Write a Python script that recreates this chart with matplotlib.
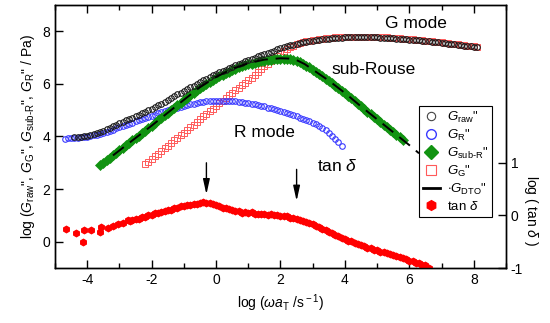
import numpy as np
import matplotlib
matplotlib.use('Agg')
import matplotlib.pyplot as plt
from matplotlib.lines import Line2D

plt.rcParams['font.family'] = ['Liberation Sans', 'DejaVu Sans']
plt.rcParams['mathtext.fontset'] = 'custom'
plt.rcParams['mathtext.rm'] = 'Liberation Sans'
plt.rcParams['mathtext.it'] = 'Liberation Sans:italic'
plt.rcParams['mathtext.bf'] = 'Liberation Sans:bold'
plt.rcParams['axes.unicode_minus'] = False

# log(omega aT) grids, 0.1 decade steps
x_raw = np.round(np.arange(-4.4, 8.15, 0.1), 1)
g_raw = [3.97, 3.98, 3.99, 4.00, 4.01, 4.04, 4.08, 4.12, 4.17, 4.22,
         4.27, 4.33, 4.39, 4.45, 4.51, 4.56, 4.61, 4.67, 4.72, 4.78,
         4.83, 4.88, 4.94, 4.99, 5.05, 5.11, 5.18, 5.24, 5.31, 5.38,
         5.45, 5.52, 5.60, 5.67, 5.74, 5.80, 5.87, 5.93, 6.00, 6.06,
         6.13, 6.19, 6.26, 6.32, 6.38, 6.43, 6.49, 6.54, 6.60, 6.65,
         6.70, 6.75, 6.80, 6.85, 6.90, 6.95, 6.99, 7.04, 7.08, 7.13,
         7.17, 7.22, 7.26, 7.31, 7.35, 7.39, 7.42, 7.46, 7.49, 7.52,
         7.55, 7.57, 7.60, 7.62, 7.64, 7.66, 7.68, 7.69, 7.71, 7.72,
         7.73, 7.74, 7.75, 7.75, 7.76, 7.76, 7.77, 7.77, 7.77, 7.77,
         7.77, 7.77, 7.76, 7.76, 7.76, 7.75, 7.75, 7.74, 7.73, 7.73,
         7.72, 7.71, 7.70, 7.69, 7.68, 7.67, 7.66, 7.65, 7.63, 7.62,
         7.61, 7.60, 7.58, 7.57, 7.56, 7.54, 7.53, 7.51, 7.50, 7.48,
         7.46, 7.45, 7.43, 7.42, 7.40, 7.39]

x_R = np.round(np.arange(-4.7, 3.95, 0.1), 1)
g_R = [3.92, 3.93, 3.94, 3.95, 3.96, 3.97, 3.98, 3.99, 4.01, 4.04,
       4.07, 4.10, 4.14, 4.18, 4.22, 4.26, 4.31, 4.35, 4.39, 4.44,
       4.48, 4.53, 4.57, 4.61, 4.66, 4.70, 4.75, 4.79, 4.83, 4.88,
       4.92, 4.96, 5.00, 5.03, 5.07, 5.10, 5.13, 5.16, 5.19, 5.22,
       5.25, 5.28, 5.30, 5.32, 5.33, 5.34, 5.35, 5.36, 5.36, 5.36,
       5.36, 5.35, 5.35, 5.34, 5.32, 5.31, 5.29, 5.28, 5.25, 5.22,
       5.20, 5.17, 5.14, 5.10, 5.07, 5.03, 5.00, 4.96, 4.92, 4.89,
       4.85, 4.81, 4.77, 4.72, 4.68, 4.63, 4.58, 4.53, 4.47, 4.40,
       4.32, 4.23, 4.13, 4.02, 3.91, 3.79, 3.62]

x_sub = np.round(np.arange(-3.6, 5.85, 0.1), 1)
g_sub = [2.91, 3.00, 3.10, 3.19, 3.28, 3.38, 3.47, 3.56, 3.66, 3.75,
         3.85, 3.94, 4.03, 4.13, 4.22, 4.32, 4.41, 4.51, 4.61, 4.70,
         4.80, 4.90, 5.00, 5.10, 5.19, 5.29, 5.39, 5.48, 5.58, 5.67,
         5.76, 5.85, 5.93, 6.01, 6.08, 6.15, 6.22, 6.28, 6.34, 6.40,
         6.46, 6.52, 6.57, 6.62, 6.66, 6.70, 6.74, 6.77, 6.80, 6.83,
         6.86, 6.88, 6.90, 6.92, 6.93, 6.94, 6.95, 6.96, 6.96, 6.94,
         6.91, 6.88, 6.82, 6.76, 6.69, 6.62, 6.54, 6.46, 6.37, 6.29,
         6.20, 6.12, 6.03, 5.93, 5.84, 5.74, 5.65, 5.55, 5.45, 5.35,
         5.24, 5.14, 5.04, 4.94, 4.84, 4.75, 4.65, 4.55, 4.45, 4.35,
         4.26, 4.16, 4.06, 3.97, 3.87]

x_G = np.round(np.arange(-2.2, 8.15, 0.1), 1)
g_G = [2.94, 3.04, 3.14, 3.24, 3.35, 3.45, 3.55, 3.65, 3.75, 3.85,
       3.95, 4.04, 4.14, 4.24, 4.35, 4.45, 4.56, 4.66, 4.76, 4.86,
       4.96, 5.06, 5.16, 5.26, 5.36, 5.46, 5.56, 5.66, 5.76, 5.85,
       5.95, 6.04, 6.14, 6.24, 6.35, 6.45, 6.56, 6.66, 6.76, 6.87,
       6.97, 7.07, 7.16, 7.24, 7.32, 7.39, 7.45, 7.50, 7.54, 7.58,
       7.61, 7.64, 7.66, 7.68, 7.70, 7.72, 7.73, 7.74, 7.75, 7.76,
       7.77, 7.77, 7.78, 7.78, 7.79, 7.79, 7.79, 7.79, 7.79, 7.79,
       7.78, 7.78, 7.78, 7.77, 7.77, 7.76, 7.75, 7.75, 7.74, 7.73,
       7.72, 7.71, 7.70, 7.69, 7.68, 7.67, 7.65, 7.64, 7.63, 7.62,
       7.60, 7.59, 7.57, 7.56, 7.54, 7.53, 7.51, 7.50, 7.48, 7.47,
       7.45, 7.44, 7.42, 7.41]

x_dto = [-3.2, -2.5, -2.0, -1.5, -1.0, -0.5, 0.0, 0.5, 1.0, 1.5, 2.0, 2.25,
         2.5, 2.75, 3.0, 3.5, 4.0, 4.5, 5.0, 5.5, 6.0, 6.3]
g_dto = [3.28, 3.94, 4.41, 4.90, 5.39, 5.87, 6.26, 6.57, 6.78, 6.92, 6.97, 6.96,
         6.90, 6.75, 6.54, 6.12, 5.65, 5.14, 4.65, 4.16, 3.67, 3.36]

# tan delta (right axis)
x_tan = np.concatenate([[-4.65, -4.35, -4.13, -4.09, -3.88, -3.60, -3.57, -3.36,
                         -3.20, -3.05, -2.90, -2.72, -2.68],
                        np.round(np.arange(-2.6, 6.65, 0.1), 1)])
log_tan = [-0.25, -0.33, -0.50, -0.28, -0.27, -0.31, -0.22, -0.24,
           -0.20, -0.17, -0.14, -0.08, -0.10,
           -0.09, -0.06, -0.06, -0.03, -0.03, 0.00, 0.01, 0.04, 0.04, 0.07,
           0.08, 0.11, 0.11, 0.14, 0.14, 0.17, 0.18, 0.20, 0.20, 0.22,
           0.22, 0.24, 0.25, 0.23, 0.23, 0.21, 0.19, 0.18, 0.15, 0.15,
           0.12, 0.11, 0.09, 0.08, 0.05, 0.06, 0.04, 0.06, 0.03, 0.03,
           0.02, 0.03, 0.01, 0.02, 0.00, 0.00, -0.01, -0.02, -0.02, -0.04,
           -0.05, -0.07, -0.08, -0.11, -0.12, -0.15, -0.17, -0.20, -0.22, -0.26,
           -0.27, -0.31, -0.33, -0.37, -0.39, -0.43, -0.45, -0.48, -0.49, -0.53,
           -0.54, -0.57, -0.58, -0.61, -0.62, -0.65, -0.66, -0.69, -0.70, -0.72,
           -0.74, -0.75, -0.77, -0.78, -0.81, -0.82, -0.86, -0.86, -0.90, -0.91,
           -0.94, -0.95, -0.99]

arrow_x = [-0.3, 2.5]
arrow_top = [3.0, 2.75]
arrow_tip = [1.8, 1.55]

c_raw = '#1a1a1a'
c_R = '#3a3aff'
c_sub = '#119311'
c_G = '#ff5a5a'
c_tan = '#ff0000'

fig = plt.figure(figsize=(5.5, 3.23), dpi=100)
ax = fig.add_axes([0.1, 0.17, 0.82, 0.815])

ax.plot(x_G, g_G, 's', ms=3.8, mfc='none', mec=c_G, mew=0.7)
ax.plot(x_R, g_R, 'o', ms=4.0, mfc='none', mec=c_R, mew=0.8)
ax.plot(x_sub, g_sub, 'D', ms=4.6, mfc=c_sub, mec=c_sub, mew=0.5)
ax.plot(x_raw, g_raw, 'o', ms=4.0, mfc='none', mec=c_raw, mew=0.8)
ax.plot(x_dto, g_dto, '-', color='k', lw=1.4, dashes=(7, 4))

ax.set_xlim(-5, 9)
ax.set_ylim(-1, 9)
ax.set_xticks([-4, -2, 0, 2, 4, 6, 8])
ax.set_xticks(np.arange(-5, 10, 1), minor=True)
ax.set_yticks([0, 2, 4, 6, 8])
ax.tick_params(which='both', direction='in', top=True, labelsize=10, width=1)
ax.tick_params(which='major', length=6)
ax.tick_params(which='minor', length=3.5)
ax.tick_params(axis='y', which='both', right=False)
ax.set_xlabel(r'log ($\omega a_{\rm T}$ /s$^{\rm -1}$)', fontsize=10, labelpad=4)
ax.set_ylabel(r'log ($G_{\rm raw}$", $G_{\rm G}$", $G_{\rm sub\text{-}R}$", $G_{\rm R}$" / Pa)',
              fontsize=10, labelpad=4)

ax2 = ax.twinx()
ax2.plot(x_tan, log_tan, 'h', ms=4.6, color=c_tan, mec=c_tan)
ax2.set_ylim(-1, 4)
ax2.set_yticks([-1, 0, 1])
ax2.tick_params(direction='in', length=6, labelsize=10, width=1)
ax2.set_ylabel(r'log ( tan $\delta$ )', fontsize=10, rotation=270)
ax2.yaxis.set_label_coords(1.075, 0.22)

for sp in list(ax.spines.values()) + list(ax2.spines.values()):
    sp.set_linewidth(1)

for xa, yt, yb in zip(arrow_x, arrow_top, arrow_tip):
    ax.annotate('', xy=(xa, yb), xytext=(xa, yt),
                arrowprops=dict(arrowstyle='-|>,head_width=0.2,head_length=0.9',
                                color='k', lw=1, shrinkA=0, shrinkB=0))

ax.text(6.2, 8.28, 'G mode', fontsize=12.5, ha='center', va='center')
ax.text(4.9, 6.56, 'sub-Rouse', fontsize=12.5, ha='center', va='center')
ax.text(1.5, 4.15, 'R mode', fontsize=12.5, ha='center', va='center')
ax.text(3.77, 2.88, r'tan $\delta$', fontsize=12.5, ha='center', va='center')

handles = [
    Line2D([], [], ls='none', marker='o', ms=6, mfc='none', mec='#444444', mew=0.8),
    Line2D([], [], ls='none', marker='o', ms=7, mfc='none', mec=c_R, mew=1),
    Line2D([], [], ls='none', marker='D', ms=7.5, mfc=c_sub, mec=c_sub),
    Line2D([], [], ls='none', marker='s', ms=7, mfc='none', mec=c_G, mew=0.8),
    Line2D([], [], color='k', lw=2),
    Line2D([], [], ls='none', marker='h', ms=7, color=c_tan),
]
labels = [r'$G_{\rm raw}$"', r'$G_{\rm R}$"', r'$G_{\rm sub\text{-}R}$"',
          r'$G_{\rm G}$"', r'$\cdot G_{\rm DTO}$"', r'tan $\delta$']
leg = ax2.legend(handles, labels, loc='upper left', bbox_to_anchor=(0.807, 0.616),
                 frameon=True, fancybox=False, edgecolor='k', framealpha=1,
                 fontsize=9.5, handlelength=1.3, handletextpad=0.5,
                 borderpad=0.3, labelspacing=0.22, borderaxespad=0)
leg.get_frame().set_linewidth(0.8)

fig.savefig('out.png', dpi=100)
